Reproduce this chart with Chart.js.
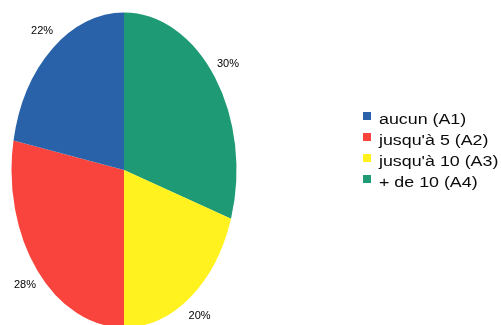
<!DOCTYPE html>
<html lang="fr">
<head>
<meta charset="utf-8">
<script src="https://cdn.jsdelivr.net/npm/chart.js@4.4.1/dist/chart.umd.min.js"></script>
<style>
    body { margin: 0; background: #fff; }
    #contenedor { position: relative; width: 501px; height: 325px; }
    #leyenda {
        position: absolute; left: 363px; top: 108px;
        margin: 0; padding: 0; list-style: none;
        font: 15.5px "Liberation Sans", Arial, sans-serif; color: #0a0a0a;
    }
    #leyenda li { display: flex; align-items: flex-start; height: 21px; line-height: 21px; white-space: nowrap; }
    #leyenda .caja { width: 8px; height: 8px; margin-top: 4px; flex: none; }
    #leyenda .texto { display: inline-block; margin-left: 8px; transform: scaleX(1.15); transform-origin: left center; }
</style>
</head>
<body>
<div id="contenedor">
    <canvas id="myChart"></canvas>
    <ul id="leyenda"></ul>
</div>
<script>
const categorias = ['aucun (A1)', "jusqu'à 5 (A2)", "jusqu'à 10 (A3)", '+ de 10 (A4)'];
const porcentajes = [22, 28, 20, 30];
const colores = ['#2a62aa', '#f8443c', '#fff21f', '#1e9a74'];

// estiramiento vertical de la torta (elipse)
const ESTIRAMIENTO = 1.4;

// las porciones van en sentido antihorario desde arriba: se pasan al revés
const datosGrafica = porcentajes.slice().reverse();
const coloresGrafica = colores.slice().reverse();
const etiquetasGrafica = categorias.slice().reverse();

const elipse = {
    id: 'elipse',
    beforeDatasetsDraw(chart) {
        const arco = chart.getDatasetMeta(0).data[0];
        const ctx = chart.ctx;
        ctx.save();
        ctx.translate(arco.x, arco.y);
        ctx.scale(1, ESTIRAMIENTO);
        ctx.translate(-arco.x, -arco.y);
    },
    afterDatasetsDraw(chart) {
        chart.ctx.restore();
    }
};

const porcentajesTexto = {
    id: 'porcentajesTexto',
    afterDraw(chart) {
        const ctx = chart.ctx;
        const meta = chart.getDatasetMeta(0);
        const valores = chart.data.datasets[0].data;
        ctx.save();
        ctx.font = '11px "Liberation Sans Narrow", "Arial Narrow", Arial, sans-serif';
        ctx.fillStyle = '#000';
        ctx.textAlign = 'center';
        ctx.textBaseline = 'middle';
        meta.data.forEach((arco, i) => {
            const angulo = (arco.startAngle + arco.endAngle) / 2;
            const r = arco.outerRadius + 16;
            const x = arco.x + Math.cos(angulo) * r;
            const y = arco.y + Math.sin(angulo) * r * ESTIRAMIENTO;
            ctx.fillText(valores[i] + '%', x, y);
        });
        ctx.restore();
    }
};

const ctx = document.getElementById('myChart');

const grafica = new Chart(ctx, {
    type: 'pie',
    data: {
        labels: etiquetasGrafica,
        datasets: [{
            data: datosGrafica,
            backgroundColor: coloresGrafica,
            borderWidth: 0,
            hoverOffset: 0
        }]
    },
    options: {
        responsive: true,
        maintainAspectRatio: false,
        animation: false,
        layout: {
            padding: { left: 11.5, right: 264.5, top: 57.5, bottom: 42.5 }
        },
        plugins: {
            legend: { display: false },
            tooltip: { enabled: false }
        }
    },
    plugins: [elipse, porcentajesTexto]
});

// leyenda en HTML, en el orden original de las categorias
const leyenda = document.querySelector('#leyenda');
categorias.forEach((categoria, i) => {
    const li = document.createElement('li');
    const caja = document.createElement('span');
    caja.classList.add('caja');
    caja.style.backgroundColor = colores[i];
    const texto = document.createElement('span');
    texto.classList.add('texto');
    texto.textContent = categoria;
    li.appendChild(caja);
    li.appendChild(texto);
    leyenda.appendChild(li);
});
</script>
</body>
</html>
